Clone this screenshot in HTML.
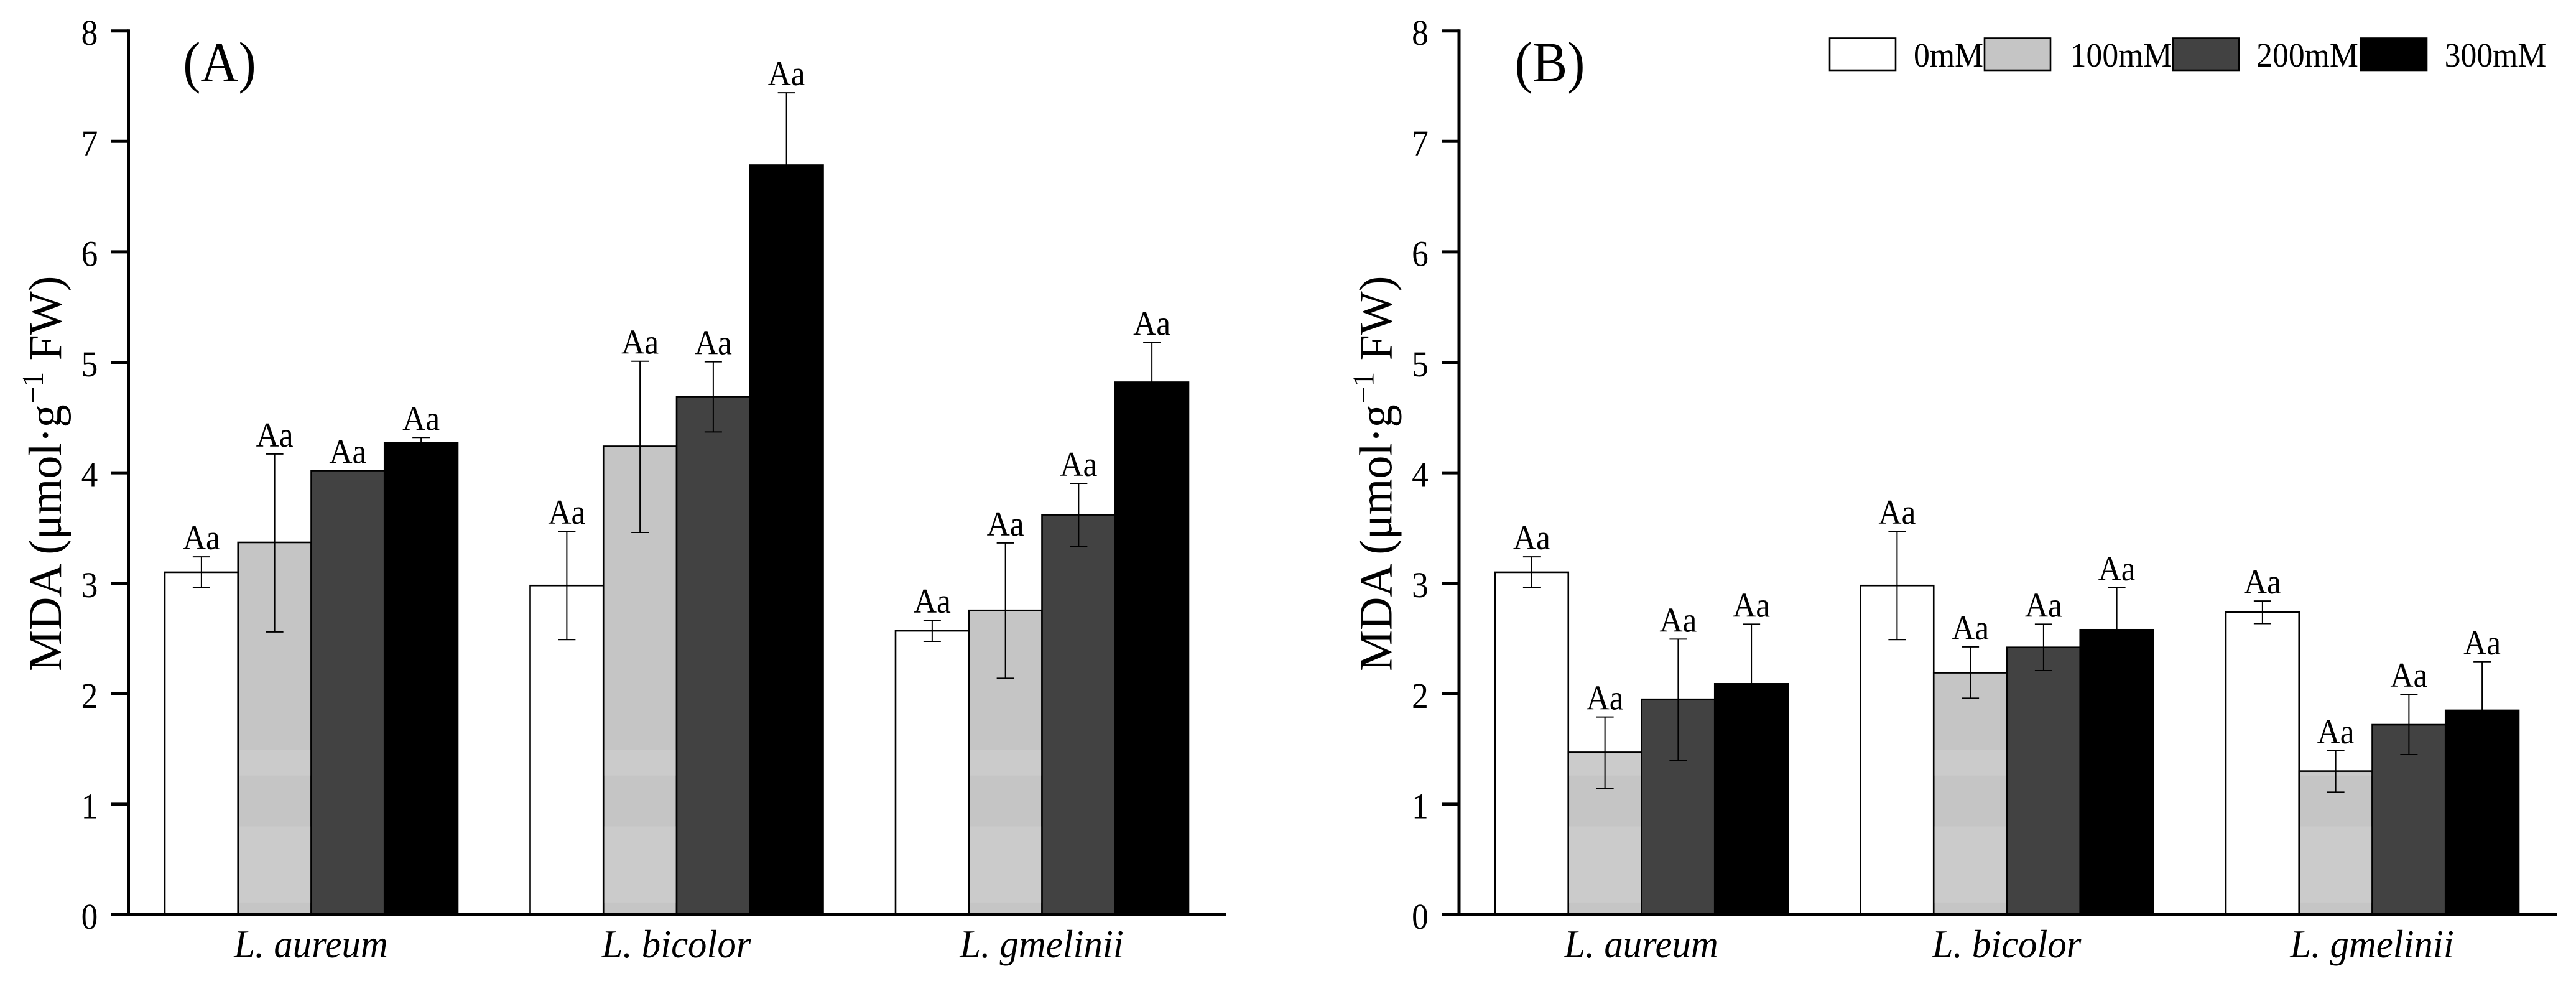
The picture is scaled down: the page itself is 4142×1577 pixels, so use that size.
<!DOCTYPE html>
<html lang="en">
<head>
<meta charset="utf-8">
<title>MDA content by species and salt treatment</title>
<style>
html,body{margin:0;padding:0;background:#fff;width:4142px;height:1577px;overflow:hidden}
svg{display:block}
text{font-family:"Liberation Serif","Times New Roman",serif;fill:#000}
</style>
</head>
<body>
<svg id="chart" xmlns="http://www.w3.org/2000/svg" width="4142" height="1577" viewBox="0 0 4142 1577"></svg>
<script>
// ---- data ----
const categories = ["L. aureum", "L. bicolor", "L. gmelinii"];
const seriesNames = ["0mM", "100mM", "200mM", "300mM"];
const yTicks = [0, 1, 2, 3, 4, 5, 6, 7, 8];
const sigLabel = "Aa";

// Panel A: value per [0mM,100mM,200mM,300mM]; one row per species
const panelAAureum   = [3.10, 3.37, 4.02, 4.27];
const panelABicolor  = [2.98, 4.24, 4.69, 6.785];
const panelAGmelinii = [2.57, 2.755, 3.62, 4.82];
const panelAAureumUp    = [3.24, 4.17, 4.02, 4.32];
const panelABicolorUp   = [3.47, 5.01, 5.005, 7.44];
const panelAGmeliniiUp  = [2.665, 3.365, 3.905, 5.18];
const panelAAureumLow   = [2.96, 2.56, 4.02, 4.22];
const panelABicolorLow  = [2.49, 3.46, 4.37, 6.13];
const panelAGmeliniiLow = [2.475, 2.14, 3.335, 4.46];

// Panel B
const panelBAureum   = [3.10, 1.47, 1.95, 2.09];
const panelBBicolor  = [2.98, 2.19, 2.42, 2.58];
const panelBGmelinii = [2.74, 1.30, 1.72, 1.85];
const panelBAureumUp    = [3.24, 1.79, 2.495, 2.63];
const panelBBicolorUp   = [3.47, 2.425, 2.63, 2.96];
const panelBGmeliniiUp  = [2.84, 1.485, 1.995, 2.29];
const panelBAureumLow   = [2.96, 1.14, 1.395, 1.55];
const panelBBicolorLow  = [2.49, 1.96, 2.21, 2.20];
const panelBGmeliniiLow = [2.635, 1.11, 1.45, 1.41];

// value ranges where the 100mM bars render a slightly lighter grey
const lightBandLow  = [0.11, 1.26];
const lightBandHigh = [0.80, 1.49];

const seriesFills = ["#ffffff", "#c5c5c5", "#424242", "#000000"];

// ---- helpers ----
const NS = "http://www.w3.org/2000/svg";
const svg = document.getElementById("chart");
const Y0 = 1470.5, UNIT = 177.6, YMAX = 8;
const yScale = v => Y0 - v * UNIT;
const BAR_W = 117.75, GROUP_STEP = 587.5;
const TXT_X = 0.92;

function mk(tag, attrs, parent) {
  const el = document.createElementNS(NS, tag);
  for (const k in attrs) el.setAttribute(k, attrs[k]);
  (parent || svg).appendChild(el);
  return el;
}
function label(str, x, y, size, parent, extra, sx) {
  const el = mk("text", Object.assign({
    transform: "translate(" + x + "," + y + ") scale(" + (sx || TXT_X) + ",1)",
    "font-size": size, "text-anchor": "middle"
  }, extra || {}), parent);
  el.textContent = str;
  return el;
}
function hline(x1, x2, y, w, color, parent) {
  return mk("line", {x1: x1, x2: x2, y1: y, y2: y, stroke: color, "stroke-width": w}, parent);
}
function vline(x, y1, y2, w, color, parent) {
  return mk("line", {x1: x, x2: x, y1: y1, y2: y2, stroke: color, "stroke-width": w}, parent);
}

function drawPanel(opts) {
  const g = mk("g", {});
  
  

  // bars, error bars and labels
  opts.values.forEach((row, c) => {
    const groupEl = mk("g", {}, g);
    
    
    const gx = opts.barStart + c * GROUP_STEP;
    row.forEach((v, s) => {
      const x = gx + s * BAR_W;
      const top = yScale(v);
      const bar = mk("rect", {
        x: x, y: top, width: BAR_W, height: Y0 - top,
        fill: seriesFills[s], stroke: "#000", "stroke-width": 2.6
      }, groupEl);
      
      
      if (s === 1) {
        lightBandLow.forEach((lo, b) => {
          const hi = Math.min(lightBandHigh[b], v - 0.012);
          if (hi <= lo) return;
          const band = mk("rect", {
            x: x + 1.3, y: yScale(hi), width: BAR_W - 2.6, height: yScale(lo) - yScale(hi),
            fill: "#cbcbcb"
          }, groupEl);
          
          
        });
      }
    });
    row.forEach((v, s) => {
      const cx = gx + (s + 0.5) * BAR_W;
      const up = yScale(opts.upper[c][s]);
      const low = yScale(opts.lower[c][s]);
      const color = "#000";
      const stem = vline(cx, up, low, 2, color, groupEl);
      
      
      const capU = hline(cx - 14, cx + 14, up, 2, color, groupEl);
      
      
      const capL = hline(cx - 14, cx + 14, low, 2, color, groupEl);
      
      
      const t = label(sigLabel, cx, up - 12, 56, groupEl);
      
      
    });
    const cat = label(categories[c], gx + 2 * BAR_W - 0.5, 1539, 64, g, {"font-style": "italic"}, 0.95);
    
    
  });

  // axes
  const yAxis = vline(opts.axisX, yScale(YMAX) - 2.5, Y0 + 2.5, 5, "#000", g);
  
  
  const xAxis = hline(opts.axisX - 28, opts.axisEnd, Y0, 5, "#000", g);
  
  

  yTicks.forEach(v => {
    const tick = hline(opts.axisX - 28, opts.axisX, yScale(v), 5, "#000", g);
    
    
    const t = label(String(v), opts.axisX - 62.5, yScale(v) + 22.5, 58, g);
    
    
  });

  // y-axis title
  const title = mk("text", {
    transform: "translate(" + (opts.axisX - 108.5) + ",1079) rotate(-90) scale(0.95,0.97)",
    "font-size": 78
  }, g);
  
  
  const t1 = mk("tspan", {}, title);
  t1.textContent = "MDA (\u03BCmol\u00B7g";
  const t2 = mk("tspan", {"font-size": 50, dy: -30, dx: 2}, title);
  t2.textContent = "\u22121";
  const t3 = mk("tspan", {dy: 30}, title);
  t3.textContent = " FW)";

  // panel letter
  const letter = label(opts.letter, opts.letterX, 131, 92, g);
  
  
}

drawPanel({
  name: "panel-a", letter: "(A)", letterX: 353,
  axisX: 206.5, axisEnd: 1971, barStart: 265,
  values: [panelAAureum, panelABicolor, panelAGmelinii],
  upper: [panelAAureumUp, panelABicolorUp, panelAGmeliniiUp],
  lower: [panelAAureumLow, panelABicolorLow, panelAGmeliniiLow]
});
drawPanel({
  name: "panel-b", letter: "(B)", letterX: 2492,
  axisX: 2346, axisEnd: 4112, barStart: 2404,
  values: [panelBAureum, panelBBicolor, panelBGmelinii],
  upper: [panelBAureumUp, panelBBicolorUp, panelBGmeliniiUp],
  lower: [panelBAureumLow, panelBBicolorLow, panelBGmeliniiLow]
});

// legend
const legend = mk("g", {});


const legendBoxX = [2942, 3191, 3494, 3796];
const legendTextX = [3133, 3410.5, 3710, 4012.5];
seriesNames.forEach((n, i) => {
  const box = mk("rect", {
    x: legendBoxX[i], y: 61.5, width: 106, height: 51.5,
    fill: seriesFills[i], stroke: "#000", "stroke-width": 2.6
  }, legend);
  
  
  const t = label(n, legendTextX[i], 107, 55, legend, null, 0.94);
  
  
});
</script>
</body>
</html>
